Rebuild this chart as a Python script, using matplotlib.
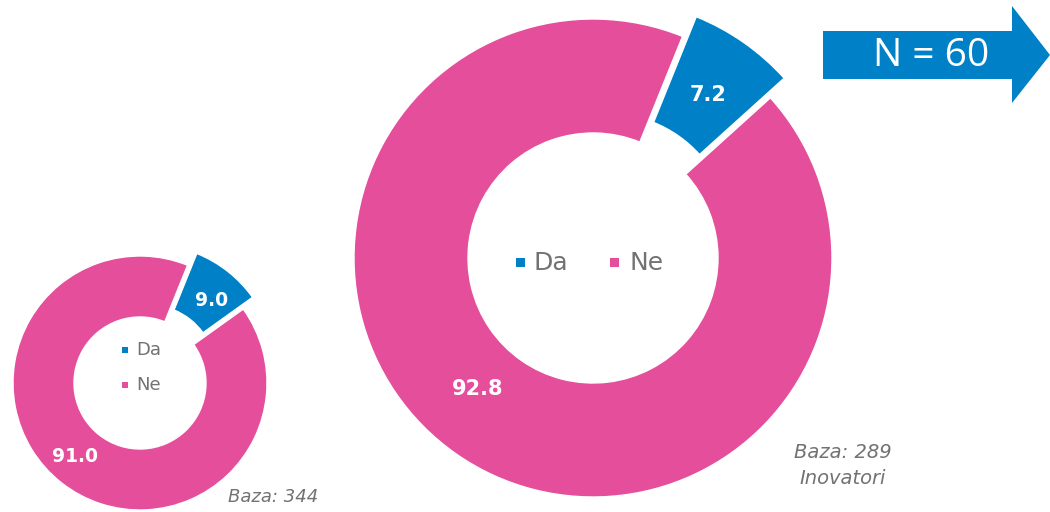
import matplotlib
matplotlib.use("Agg")
import matplotlib.pyplot as plt
from matplotlib.patches import Polygon, Rectangle

# Data
categories = ["Da", "Ne"]
values_small = [9.0, 91.0]
values_large = [7.2, 92.8]
baza_small = "Baza: 344"
baza_large = "Baza: 289\nInovatori"
arrow_text = "N = 60"

colors = ["#0080C6", "#E44E9B"]
gray = "#727272"
FONT = ["DejaVu Sans"]

W, H = 1050, 512
fig = plt.figure(figsize=(W / 100, H / 100), dpi=100)
ax = fig.add_axes([0, 0, 1, 1])


def Y(y):
    return H - y


def donut(values, cx, cy, r, width, expl):
    ax.pie(values, colors=colors, startangle=68, counterclock=False,
           explode=(expl, 0.0), center=(cx, Y(cy)), radius=r,
           wedgeprops=dict(width=width, edgecolor="white", linewidth=1.0),
           frame=True)


donut(values_large, 593, 258, 239, 114, 24)
donut(values_small, 140, 383, 127, 61, 15)
ax.set_xlim(0, W)
ax.set_ylim(0, H)
ax.set_aspect("equal")
ax.axis("off")

# value labels
ax.text(708, Y(95), f"{values_large[0]:.1f}", color="white", fontsize=15, fontweight="bold",
        ha="center", va="center", family=FONT)
ax.text(478, Y(389), f"{values_large[1]:.1f}", color="white", fontsize=15, fontweight="bold",
        ha="center", va="center", family=FONT)
ax.text(212, Y(301), f"{values_small[0]:.1f}", color="white", fontsize=13.5, fontweight="bold",
        ha="center", va="center", family=FONT)
ax.text(75, Y(456), f"{values_small[1]:.1f}", color="white", fontsize=13.5, fontweight="bold",
        ha="center", va="center", family=FONT)

# legend large (horizontal)
for cat, col, mx, tx in [(categories[0], colors[0], 520, 534), (categories[1], colors[1], 614.5, 629)]:
    ax.add_patch(Rectangle((mx - 4.5, Y(262) - 4.5), 9, 9, color=col, lw=0))
    ax.text(tx, Y(263), cat, color=gray, fontsize=18, ha="left", va="center", family=FONT)

# legend small (vertical)
for cat, col, yy in [(categories[0], colors[0], 350), (categories[1], colors[1], 385)]:
    ax.add_patch(Rectangle((125 - 3, Y(yy) - 3), 6, 6, color=col, lw=0))
    ax.text(136, Y(yy), cat, color=gray, fontsize=13, ha="left", va="center", family=FONT)

# Baza texts
ax.text(228, Y(497), baza_small, color=gray, fontsize=13, style="italic",
        ha="left", va="center", family=FONT)
ax.text(843, Y(453), baza_large.split("\n")[0], color=gray, fontsize=14, style="italic",
        ha="center", va="center", family=FONT)
ax.text(843, Y(478), baza_large.split("\n")[1], color=gray, fontsize=14, style="italic",
        ha="center", va="center", family=FONT)

# Arrow
arrow_pts = [(823, 31), (1012, 31), (1012, 6), (1050, 55), (1012, 103), (1012, 79), (823, 79)]
ax.add_patch(Polygon([(x, Y(y)) for x, y in arrow_pts], closed=True, color=colors[0], lw=0))
ax.text(931, Y(56), arrow_text, color="white", fontsize=28, ha="center", va="center",
        family=["Open Sans", "DejaVu Sans"])

fig.savefig("out.png", dpi=100)
